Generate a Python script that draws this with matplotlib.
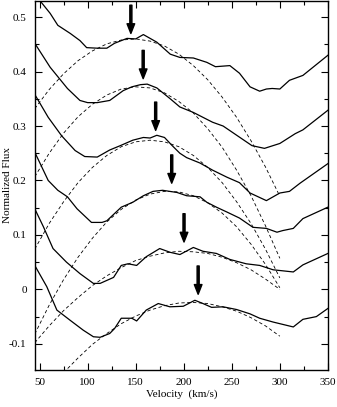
import matplotlib
matplotlib.use("Agg")
import matplotlib.pyplot as plt
from matplotlib.ticker import MultipleLocator, FuncFormatter

plt.rcParams['font.family'] = ['Liberation Serif', 'DejaVu Serif']
plt.rcParams['axes.unicode_minus'] = False

# observed spectra (velocity km/s, normalized flux + offset)
v1 = [45, 50.5, 61, 69, 82, 92, 99, 110, 120, 128, 141, 150, 158, 172, 186, 196, 210, 224, 233,
      248, 258, 269, 279, 286, 292, 300, 310, 324, 350]
f1 = [0.545, 0.53, 0.507, 0.485, 0.47, 0.457, 0.444, 0.443, 0.443, 0.452, 0.461, 0.46, 0.468,
      0.454, 0.432, 0.426, 0.425, 0.417, 0.409, 0.411, 0.397, 0.372, 0.364, 0.368, 0.369, 0.368,
      0.384, 0.393, 0.43]

v2 = [45, 61, 79, 92, 100, 110, 123, 137, 146, 155, 162, 172, 186, 196, 210, 230, 241, 251,
      271, 284, 300, 316, 324, 350]
f2 = [0.452, 0.408, 0.369, 0.347, 0.343, 0.343, 0.347, 0.365, 0.372, 0.376, 0.377, 0.370, 0.350,
      0.335, 0.325, 0.307, 0.300, 0.288, 0.264, 0.259, 0.268, 0.286, 0.293, 0.329]

v3 = [45, 59, 73, 87, 97, 110, 123, 134, 147, 158, 165, 172, 180, 188, 196, 203, 217, 230, 245,
      258, 269, 286, 300, 310, 321, 350]
f3 = [0.358, 0.316, 0.282, 0.255, 0.244, 0.243, 0.256, 0.264, 0.274, 0.279, 0.278, 0.283, 0.279,
      0.264, 0.250, 0.242, 0.232, 0.219, 0.206, 0.196, 0.177, 0.163, 0.177, 0.180, 0.195, 0.231]

v4 = [45, 59, 69, 79, 89, 104, 115, 120, 135, 147, 158, 168, 178, 193, 203, 217, 224, 234, 245,
      258, 272, 286, 297, 303, 314, 324, 350]
f4 = [0.252, 0.2, 0.182, 0.17, 0.148, 0.123, 0.123, 0.126, 0.151, 0.16, 0.172, 0.18, 0.182, 0.178,
      0.172, 0.170, 0.16, 0.151, 0.142, 0.131, 0.114, 0.112, 0.105, 0.108, 0.112, 0.13, 0.151]

v5 = [45, 54, 64, 78, 92, 106, 113, 127, 135, 142, 151, 161, 175, 186, 196, 210, 220, 234, 248,
      265, 279, 293, 314, 324, 350]
f5 = [0.148, 0.115, 0.075, 0.05, 0.029, 0.011, 0.011, 0.022, 0.044, 0.047, 0.044, 0.06, 0.075,
      0.068, 0.064, 0.077, 0.07, 0.066, 0.055, 0.047, 0.044, 0.036, 0.032, 0.045, 0.066]

v6 = [45, 57.5, 68, 82, 95.5, 106, 113, 123, 128, 135, 146, 151, 161, 173.5, 185.6, 199.5, 211.6,
      220, 229, 241, 255, 269, 279, 293, 314, 324, 338, 350]
f6 = [0.044, 0.005, -0.038, -0.057, -0.075, -0.087, -0.088, -0.081, -0.072, -0.053, -0.053,
      -0.058, -0.038, -0.026, -0.032, -0.031, -0.02, -0.026, -0.033, -0.032, -0.037, -0.045,
      -0.053, -0.06, -0.069, -0.055, -0.05, -0.035]

# fitted profiles (dashed)
vfit = [45, 60, 75, 90, 105, 120, 135, 150, 165, 180, 195, 210, 225, 240, 255, 270, 285, 300]
fit1 = [0.332, 0.367, 0.396, 0.420, 0.438, 0.451, 0.458, 0.460, 0.456, 0.447, 0.432, 0.411,
        0.385, 0.353, 0.316, 0.273, 0.225, 0.171]
fit2 = [0.207, 0.250, 0.287, 0.317, 0.340, 0.357, 0.368, 0.372, 0.370, 0.361, 0.345, 0.324,
        0.295, 0.261, 0.219, 0.172, 0.117, 0.057]
fit3 = [0.074, 0.121, 0.161, 0.196, 0.224, 0.246, 0.262, 0.271, 0.274, 0.271, 0.262, 0.246,
        0.224, 0.196, 0.161, 0.121, 0.074, 0.021]
fit4 = [-0.082, -0.029, 0.018, 0.059, 0.094, 0.124, 0.147, 0.164, 0.175, 0.180, 0.179, 0.172,
        0.159, 0.140, 0.115, 0.083, 0.046, 0.003]
fit5 = [-0.098, -0.067, -0.039, -0.015, 0.007, 0.025, 0.040, 0.053, 0.061, 0.067, 0.070, 0.069,
        0.066, 0.059, 0.049, 0.036, 0.019, 0.0]
vfit6 = [75, 90, 105, 120, 135, 150, 165, 180, 195, 210, 225, 240, 255, 270, 285, 300]
fit6 = [-0.153, -0.126, -0.101, -0.081, -0.063, -0.049, -0.038, -0.030, -0.025, -0.024, -0.026,
        -0.032, -0.040, -0.052, -0.067, -0.086]

# arrow markers: velocity, tip flux
arrow_v = [145, 157.8, 170.8, 187.5, 200.3, 215]
arrow_tip = [0.47, 0.387, 0.292, 0.195, 0.087, -0.009]
arrow_len = 0.052

fig = plt.figure(figsize=(3.37, 4.07), dpi=100)
ax = fig.add_axes([0.104, 0.091, 0.869, 0.907])

for v, f in [(v1, f1), (v2, f2), (v3, f3), (v4, f4), (v5, f5), (v6, f6)]:
    ax.plot(v, f, color='k', lw=0.9)

for v, f in [(vfit, fit1), (vfit, fit2), (vfit, fit3), (vfit, fit4), (vfit, fit5), (vfit6, fit6)]:
    ax.plot(v, f, color='k', lw=0.6, linestyle=(0, (4, 3)))

for x, tip in zip(arrow_v, arrow_tip):
    ax.annotate('', xy=(x, tip), xytext=(x, tip + arrow_len),
                arrowprops=dict(facecolor='black', edgecolor='black', width=1.5,
                                headwidth=5.5, headlength=7, shrink=0))

ax.set_xlim(45.3, 350)
ax.set_ylim(-0.148, 0.53)
ax.xaxis.set_major_locator(MultipleLocator(50))
ax.xaxis.set_minor_locator(MultipleLocator(25))
ax.yaxis.set_major_locator(MultipleLocator(0.1))
ax.yaxis.set_minor_locator(MultipleLocator(0.05))
ax.yaxis.set_major_formatter(FuncFormatter(lambda y, p: '0' if abs(y) < 1e-9 else f'{y:.1f}'))
ax.tick_params(which='both', direction='in', top=True, right=True, labelsize=8, width=0.8)
ax.tick_params(which='major', length=5, pad=6)
ax.tick_params(which='minor', length=3)
for s in ax.spines.values():
    s.set_linewidth(1.0)

ax.set_xlabel('Velocity  (km/s)', fontsize=8)
ax.set_ylabel('Normalized Flux', fontsize=8)
ax.xaxis.set_label_coords(0.5, -0.052)
ax.yaxis.set_label_coords(-0.08, 0.5)

fig.savefig('out.png', dpi=100)
